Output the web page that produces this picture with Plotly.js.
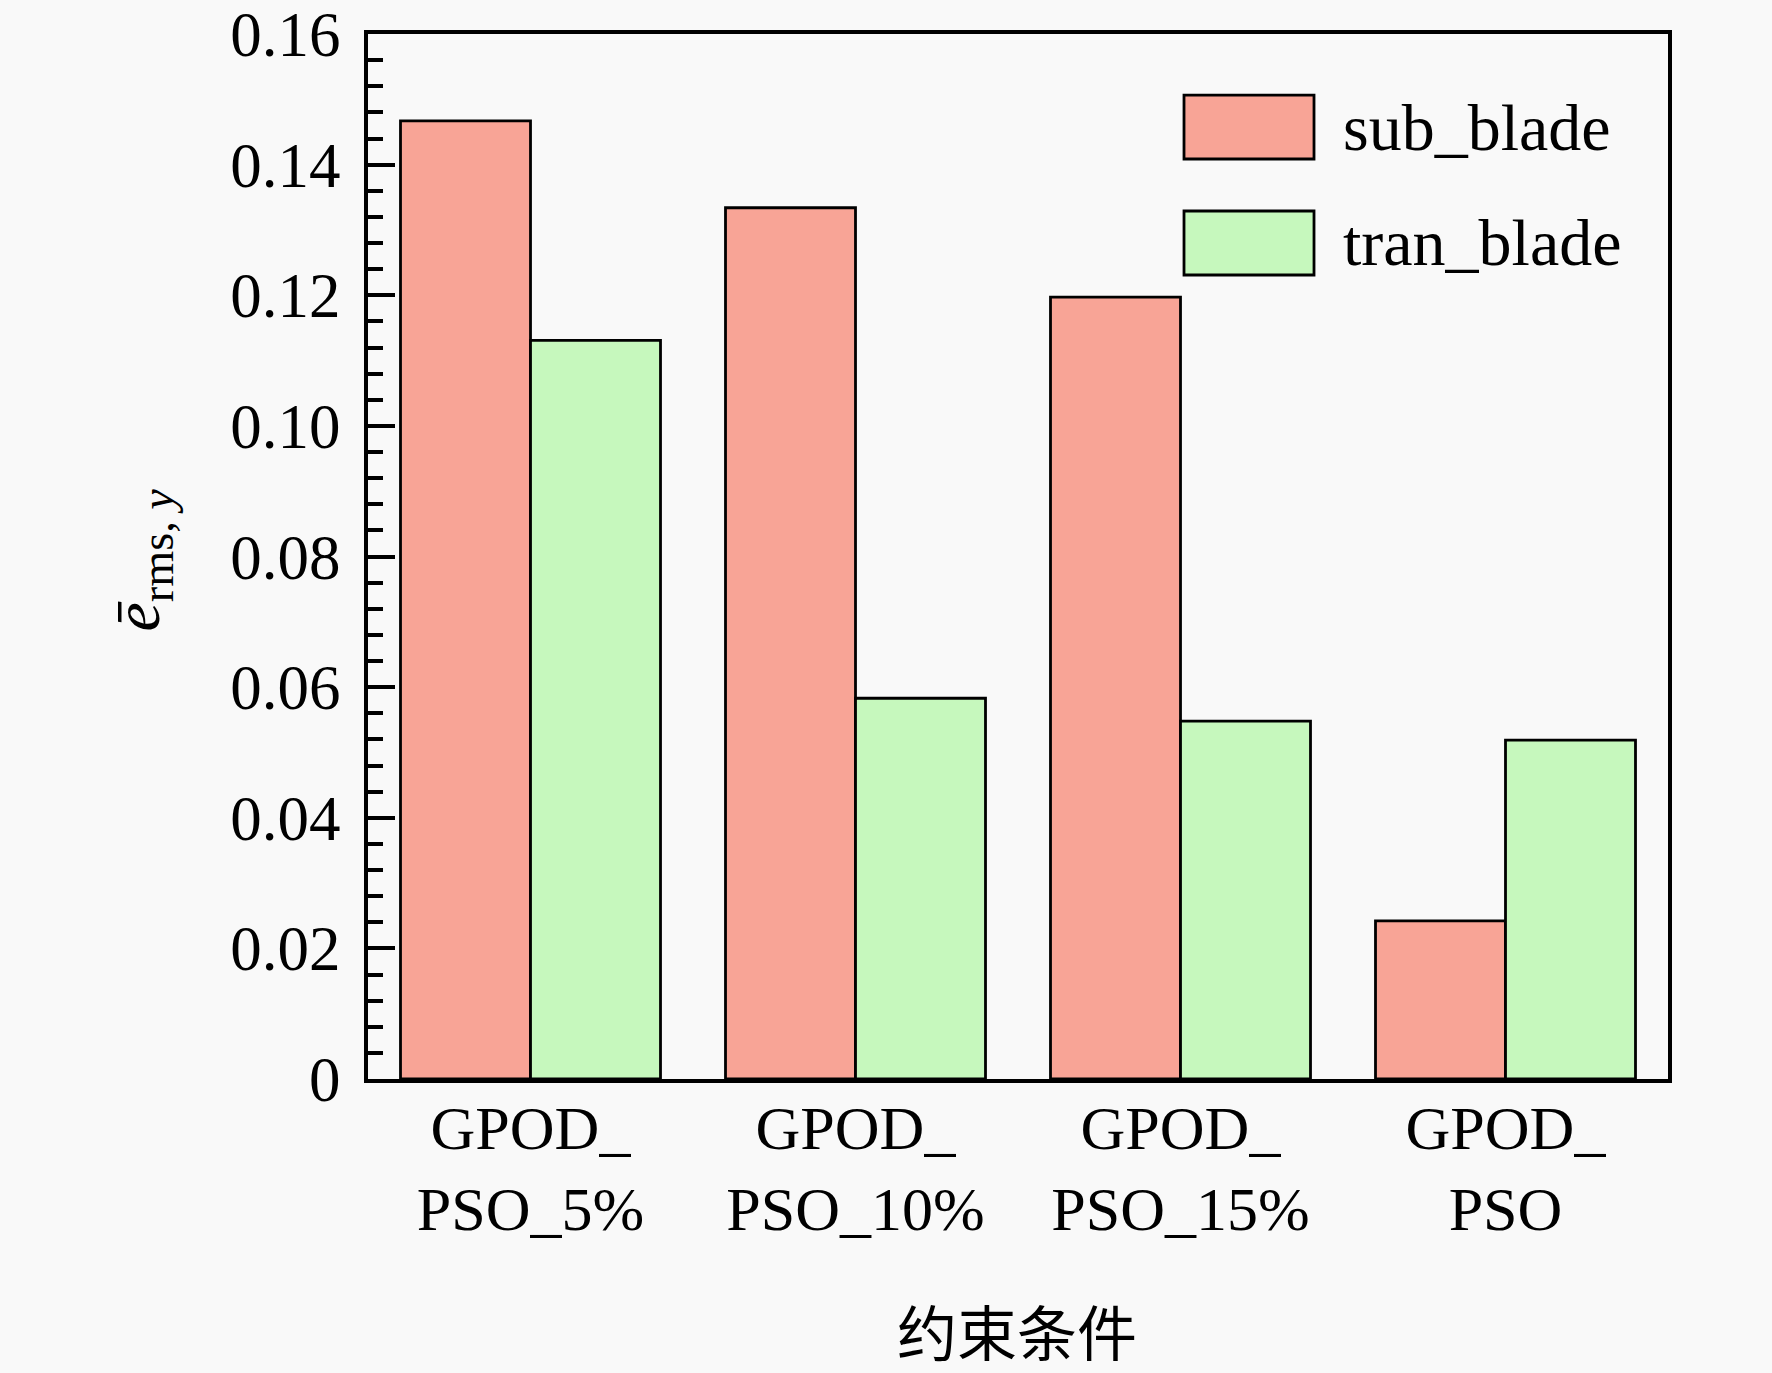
<!DOCTYPE html>
<html>
<head>
<meta charset="utf-8">
<script src="https://cdn.plot.ly/plotly-3.0.1.min.js"></script>
<style>
  html, body { margin: 0; padding: 0; background: #f9f9f9; }
  #chart { width: 1772px; height: 1373px; }
</style>
</head>
<body>
<div id="chart"></div>
<script>
// categories and values
let categories = ['GPOD_<br>PSO_5%', 'GPOD_<br>PSO_10%', 'GPOD_<br>PSO_15%', 'GPOD_<br>PSO'];
let subBlade = [0.1467, 0.1334, 0.1197, 0.0242];
let tranBlade = [0.1131, 0.0583, 0.0548, 0.0519];
let yTickVals = [0, 0.02, 0.04, 0.06, 0.08, 0.10, 0.12, 0.14, 0.16];
let yTickText = ['0', '0.02', '0.04', '0.06', '0.08', '0.10', '0.12', '0.14', '0.16'];
let seriesNames = ['sub_blade', 'tran_blade'];
let seriesColors = ['#f8a496', '#c6f8bd'];

let serif = '"Liberation Serif", "Times New Roman", serif';

let trace1 = {
    type: 'bar',
    name: seriesNames[0],
    x: categories,
    y: subBlade,
    marker: { color: seriesColors[0], line: { color: '#000', width: 2.8 } },
    hoverinfo: 'y',
};

let trace2 = {
    type: 'bar',
    name: seriesNames[1],
    x: categories,
    y: tranBlade,
    marker: { color: seriesColors[1], line: { color: '#000', width: 2.8 } },
    hoverinfo: 'y',
};

// legend drawn by hand so the swatches can be as big as in the figure
let shapes = [];
let annotations = [];
let legendRows = [[0.9416, 0.8804], [0.8306, 0.7694]];
for (let i = 0; i < seriesNames.length; i++) {
    shapes.push({
        type: 'rect', xref: 'paper', yref: 'paper',
        x0: 0.6277, x1: 0.7277, y0: legendRows[i][1], y1: legendRows[i][0],
        fillcolor: seriesColors[i], line: { color: '#000', width: 2.8 },
    });
    annotations.push({
        xref: 'paper', yref: 'paper', x: 0.7485, y: (legendRows[i][0] + legendRows[i][1]) / 2,
        xanchor: 'left', yanchor: 'middle', showarrow: false,
        text: seriesNames[i], font: { family: serif, size: 66, color: '#000' },
    });
}

// y axis title: e-bar with subscript
annotations.push({
    xref: 'paper', yref: 'paper', x: -0.174, y: 0.497,
    xanchor: 'center', yanchor: 'middle', showarrow: false, textangle: -90,
    text: '<i>e\u0304</i><sub>rms, <i>y</i></sub>',
    font: { family: serif, size: 66, color: '#000' },
});

// x axis title
annotations.push({
    xref: 'paper', yref: 'paper', x: 0.499, y: -0.24,
    xanchor: 'center', yanchor: 'middle', showarrow: false,
    text: '约束条件',
    font: { family: '"Noto Sans CJK SC", sans-serif', size: 60, color: '#000' },
});

let layout = {
    width: 1772,
    height: 1373,
    margin: { l: 368, r: 104, t: 34, b: 294 },
    paper_bgcolor: '#f9f9f9',
    plot_bgcolor: '#f9f9f9',
    showlegend: false,
    barmode: 'group',
    bargap: 0.2,
    bargroupgap: 0,
    font: { family: serif, color: '#000' },
    xaxis: {
        range: [-0.5, 3.5],
        showline: true, linecolor: '#000', linewidth: 4, mirror: true,
        ticks: '', showgrid: false, zeroline: false,
        tickfont: { family: serif, size: 62, color: '#000' },
        ticklabelstandoff: -8,
    },
    yaxis: {
        range: [0, 0.16],
        showline: true, linecolor: '#000', linewidth: 4, mirror: true,
        ticks: 'inside', ticklen: 27, tickwidth: 4, tickcolor: '#000',
        tickvals: yTickVals, ticktext: yTickText,
        minor: { dtick: 0.004, ticks: 'inside', ticklen: 15, tickwidth: 4, tickcolor: '#000', showgrid: false },
        showgrid: false, zeroline: false,
        tickfont: { family: serif, size: 63, color: '#000' },
        ticklabelstandoff: 11,
    },
    shapes: shapes,
    annotations: annotations,
};

Plotly.newPlot('chart', [trace1, trace2], layout, { displayModeBar: false, staticPlot: true });
</script>
</body>
</html>
